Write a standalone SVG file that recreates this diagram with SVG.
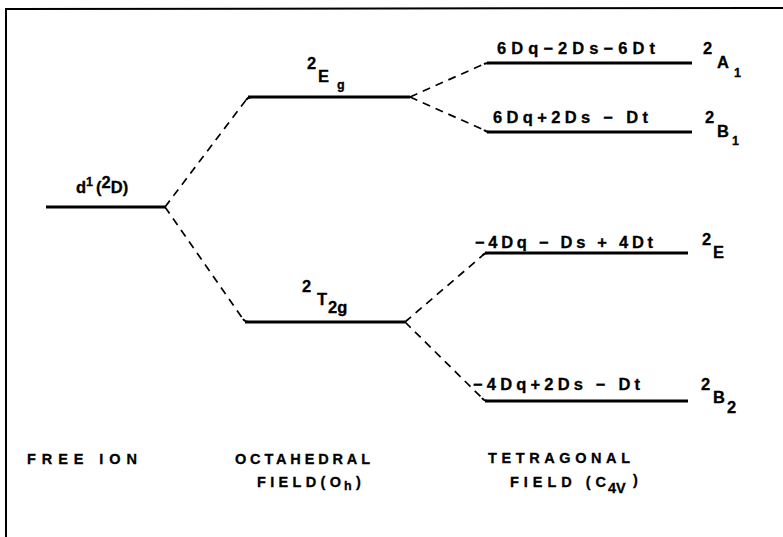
<svg xmlns="http://www.w3.org/2000/svg" width="783" height="537" viewBox="0 0 783 537">
<style>
.t{font-family:"Liberation Sans",Arial,sans-serif;font-size:16.5px;font-weight:bold;fill:#000;stroke:#000;stroke-width:0.3}
.s{font-size:12.5px}
.b{font-size:14.5px}
.lv{stroke:#000;stroke-width:3;fill:none}
.d{stroke:#000;stroke-width:1.7;stroke-dasharray:8,6;fill:none}
.h{stroke:#000;stroke-width:2;fill:none}
</style>
<rect width="783" height="537" fill="#fff"/>
<g id="frame" stroke="#000" stroke-width="2" fill="none">
<line x1="5" y1="9" x2="783" y2="8"/>
<line x1="6" y1="8" x2="6" y2="537"/>
</g>
<g id="connectors">
<path class="d" d="M165,207 L246,100"/>
<path class="d" d="M165,207 L243,319"/>
<path class="d" d="M410,97 L484,64"/>
<path class="d" d="M410,97 L484,130"/>
<path class="d" d="M405,322 L482,256"/>
<path class="d" d="M405,322 L482,398"/>
<path class="h" d="M246,100 Q248,97 252,97 M243,319 Q245,322 249,322 M484,64 Q486,63 490,63 M484,130 Q486,132 490,132 M482,256 Q484,253 488,253 M482,398 Q484,401 488,401"/>
</g>
<g id="free-ion">
<line class="lv" x1="46" y1="207" x2="166" y2="207"/>
<text class="t" x="76" y="193">d<tspan class="s" dy="-7">1</tspan><tspan dx="3" dy="7">(</tspan><tspan dy="-5">2</tspan><tspan dy="5">D)</tspan></text>
</g>
<g id="Eg">
<line class="lv" x1="248" y1="97" x2="410" y2="97"/>
<text class="t" x="307" y="69">2</text>
<text class="t" x="318" y="82">E</text>
<text class="t s" x="337" y="89">g</text>
</g>
<g id="T2g">
<line class="lv" x1="245" y1="322" x2="405" y2="322"/>
<text class="t" x="302" y="292">2</text>
<text class="t" x="317" y="305">T</text>
<text class="t" x="328" y="313">2g</text>
</g>
<g id="A1">
<line class="lv" x1="487" y1="63" x2="692" y2="63"/>
<text class="t" x="497" y="54" textLength="158" lengthAdjust="spacing">6Dq−2Ds−6Dt</text>
<text class="t" x="703" y="54">2</text>
<text class="t" x="717" y="68">A</text>
<text class="t s" x="734" y="77">1</text>
</g>
<g id="B1">
<line class="lv" x1="487" y1="132" x2="692" y2="132"/>
<text class="t" x="493" y="123" textLength="155" lengthAdjust="spacing">6Dq+2Ds − Dt</text>
<text class="t" x="705" y="123">2</text>
<text class="t" x="717" y="137">B</text>
<text class="t s" x="732" y="145">1</text>
</g>
<g id="E">
<line class="lv" x1="485" y1="253" x2="688" y2="253"/>
<text class="t" x="475" y="248" textLength="178" lengthAdjust="spacing">−4Dq − Ds + 4Dt</text>
<text class="t" x="702" y="245">2</text>
<text class="t" x="713" y="258">E</text>
</g>
<g id="B2">
<line class="lv" x1="485" y1="401" x2="688" y2="401"/>
<text class="t" x="473" y="390" textLength="167" lengthAdjust="spacing">−4Dq+2Ds − Dt</text>
<text class="t" x="701" y="390">2</text>
<text class="t" x="713" y="403">B</text>
<text class="t" x="727" y="413">2</text>
</g>
<g id="labels">
<text class="t b" x="27" y="464" textLength="110" lengthAdjust="spacing">FREE  ION</text>
<text class="t b" x="235" y="464" textLength="135" lengthAdjust="spacing">OCTAHEDRAL</text>
<text class="t b" x="257" y="487" textLength="84" lengthAdjust="spacing">FIELD(O</text>
<text class="t s" x="344" y="490">h</text>
<text class="t b" x="356" y="487">)</text>
<text class="t b" x="488" y="463" textLength="142" lengthAdjust="spacing">TETRAGONAL</text>
<text class="t b" x="510" y="487" textLength="96" lengthAdjust="spacing">FIELD (C</text>
<text class="t b" x="608" y="493">4V</text>
<text class="t b" x="633" y="485">)</text>
</g>
</svg>
